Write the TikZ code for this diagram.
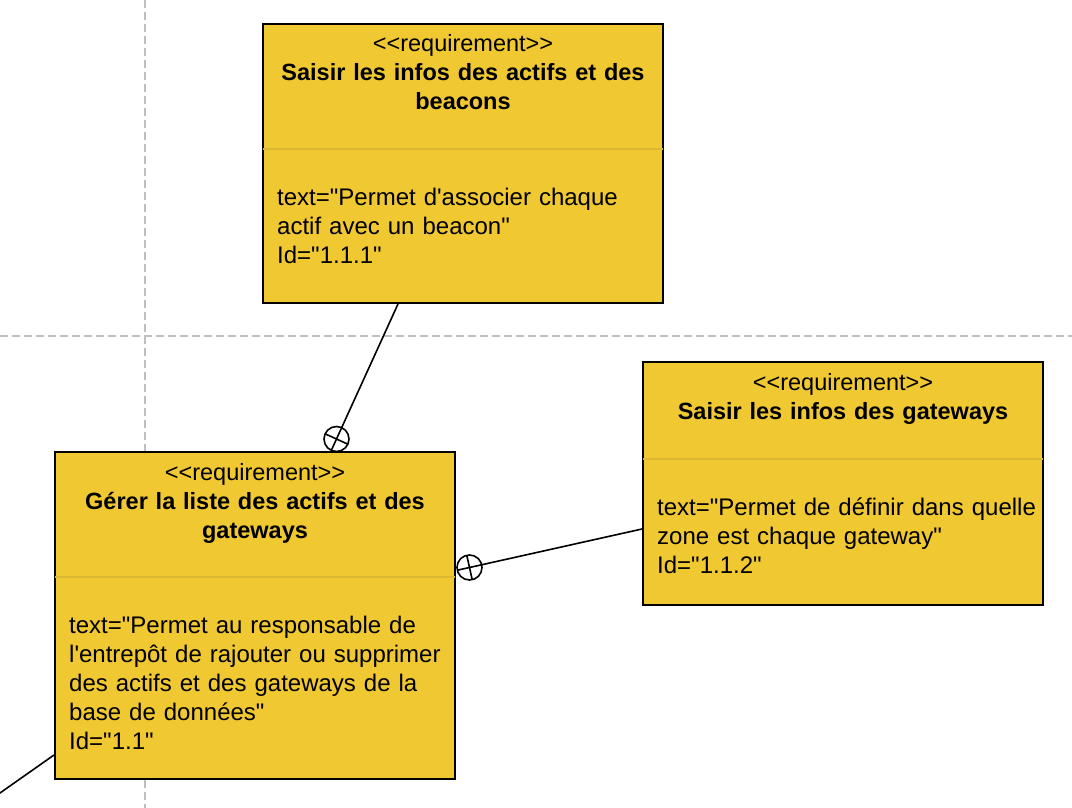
\documentclass[tikz,border=0pt]{standalone}
\usepackage{fontspec}
\setmainfont{Liberation Sans}[Ligatures=TeXOff]
\usepackage{tikz}
\usetikzlibrary{positioning,calc}
\definecolor{reqfill}{RGB}{240,200,50}
\definecolor{reqline}{RGB}{220,185,52}
\definecolor{gridgray}{RGB}{192,192,192}
\newcommand{\reqtitle}[1]{\textbf{\fontsize{23.5}{29}\selectfont #1}}

\begin{document}
\begin{tikzpicture}[
      x=1pt, y=-1pt,
      reqbox/.style={
         rectangle,
         draw=black,
         fill=reqfill,
         line width=2pt,
         minimum width=400pt,
         inner sep=0pt},
      headtext/.style={
         anchor=base,
         text width=390pt,
         align=center,
         inner sep=0pt,
         font=\fontsize{23.5}{29}\selectfont},
      bodytext/.style={
         anchor=base west,
         text width=380pt,
         align=left,
         inner sep=0pt,
         font=\fontsize{24}{29}\selectfont},
      divider/.style={draw=reqline, line width=2pt},
      gridline/.style={draw=gridgray, line width=2pt, dash pattern=on 8pt off 4pt},
      assoc/.style={line width=1.6pt},
      contain/.style={
         circle,
         draw=black,
         line width=1.6pt,
         inner sep=0pt,
         minimum size=25pt}
      ]
      \useasboundingbox (0,0) rectangle (1072,808);
      % guides
      \draw[gridline] (145,0) -- (145,808);
      \draw[gridline] (0,336) -- (1072,336);

      % requirement boxes
      \node[reqbox, minimum height=279pt] (reqA) at (463,163.5) {};
      \node[reqbox, minimum height=243pt] (reqB) at (843,483.5) {};
      \node[reqbox, minimum height=327pt] (reqC) at (255,615.5) {};

      \draw[divider] ($(reqA.north west)+(1,126)$) -- ($(reqA.north east)+(-1,126)$);
      \draw[divider] ($(reqB.north west)+(1,98)$) -- ($(reqB.north east)+(-1,98)$);
      \draw[divider] ($(reqC.north west)+(1,126)$) -- ($(reqC.north east)+(-1,126)$);

      \node[headtext] (headA) at ($(reqA.north)+(0,29)$)
         {<<requirement>>\\ \reqtitle{Saisir les infos des actifs et des}\\ \reqtitle{beacons}};
      \node[headtext] (headB) at ($(reqB.north)+(0,29)$)
         {<<requirement>>\\ \reqtitle{Saisir les infos des gateways}};
      \node[headtext] (headC) at ($(reqC.north)+(0,29)$)
         {<<requirement>>\\ \reqtitle{Gérer la liste des actifs et des}\\ \reqtitle{gateways}};

      \node[bodytext] (bodyA) at ($(reqA.north west)+(15,182)$)
         {text="Permet d'associer chaque\\ actif avec un beacon"\\ Id="1.1.1"};
      \node[bodytext] (bodyB) at ($(reqB.north west)+(15,154)$)
         {text="Permet de définir dans quelle\\ zone est chaque gateway"\\ Id="1.1.2"};
      \node[bodytext] (bodyC) at ($(reqC.north west)+(15,182)$)
         {text="Permet au responsable de\\ l'entrepôt de rajouter ou supprimer\\ des actifs et des gateways de la\\ base de données"\\ Id="1.1"};

      % containment links
      \node[contain] (k1) at (336.5,439) {};
      \node[contain] (k2) at (469.5,567.5) {};
      \coordinate (a1) at ($(reqA.south)+(-65,0)$);
      \coordinate (b1) at ($(reqB.west)+(0,45.5)$);
      \coordinate (c1) at ($(reqC.west)+(0,139.5)$);
      \coordinate (cOut) at (-5,796.5);

      \foreach \k/\s in {k1/a1, k2/b1} {
         \draw[assoc] (\s) -- ($(\k.center)!-12.5pt!(\s)$);
         \draw[assoc] ($(\k.center)!12.5pt!90:(\s)$) -- ($(\k.center)!12.5pt!-90:(\s)$);
      }
      \draw[assoc] (c1) -- (cOut);
\end{tikzpicture}
\end{document}
